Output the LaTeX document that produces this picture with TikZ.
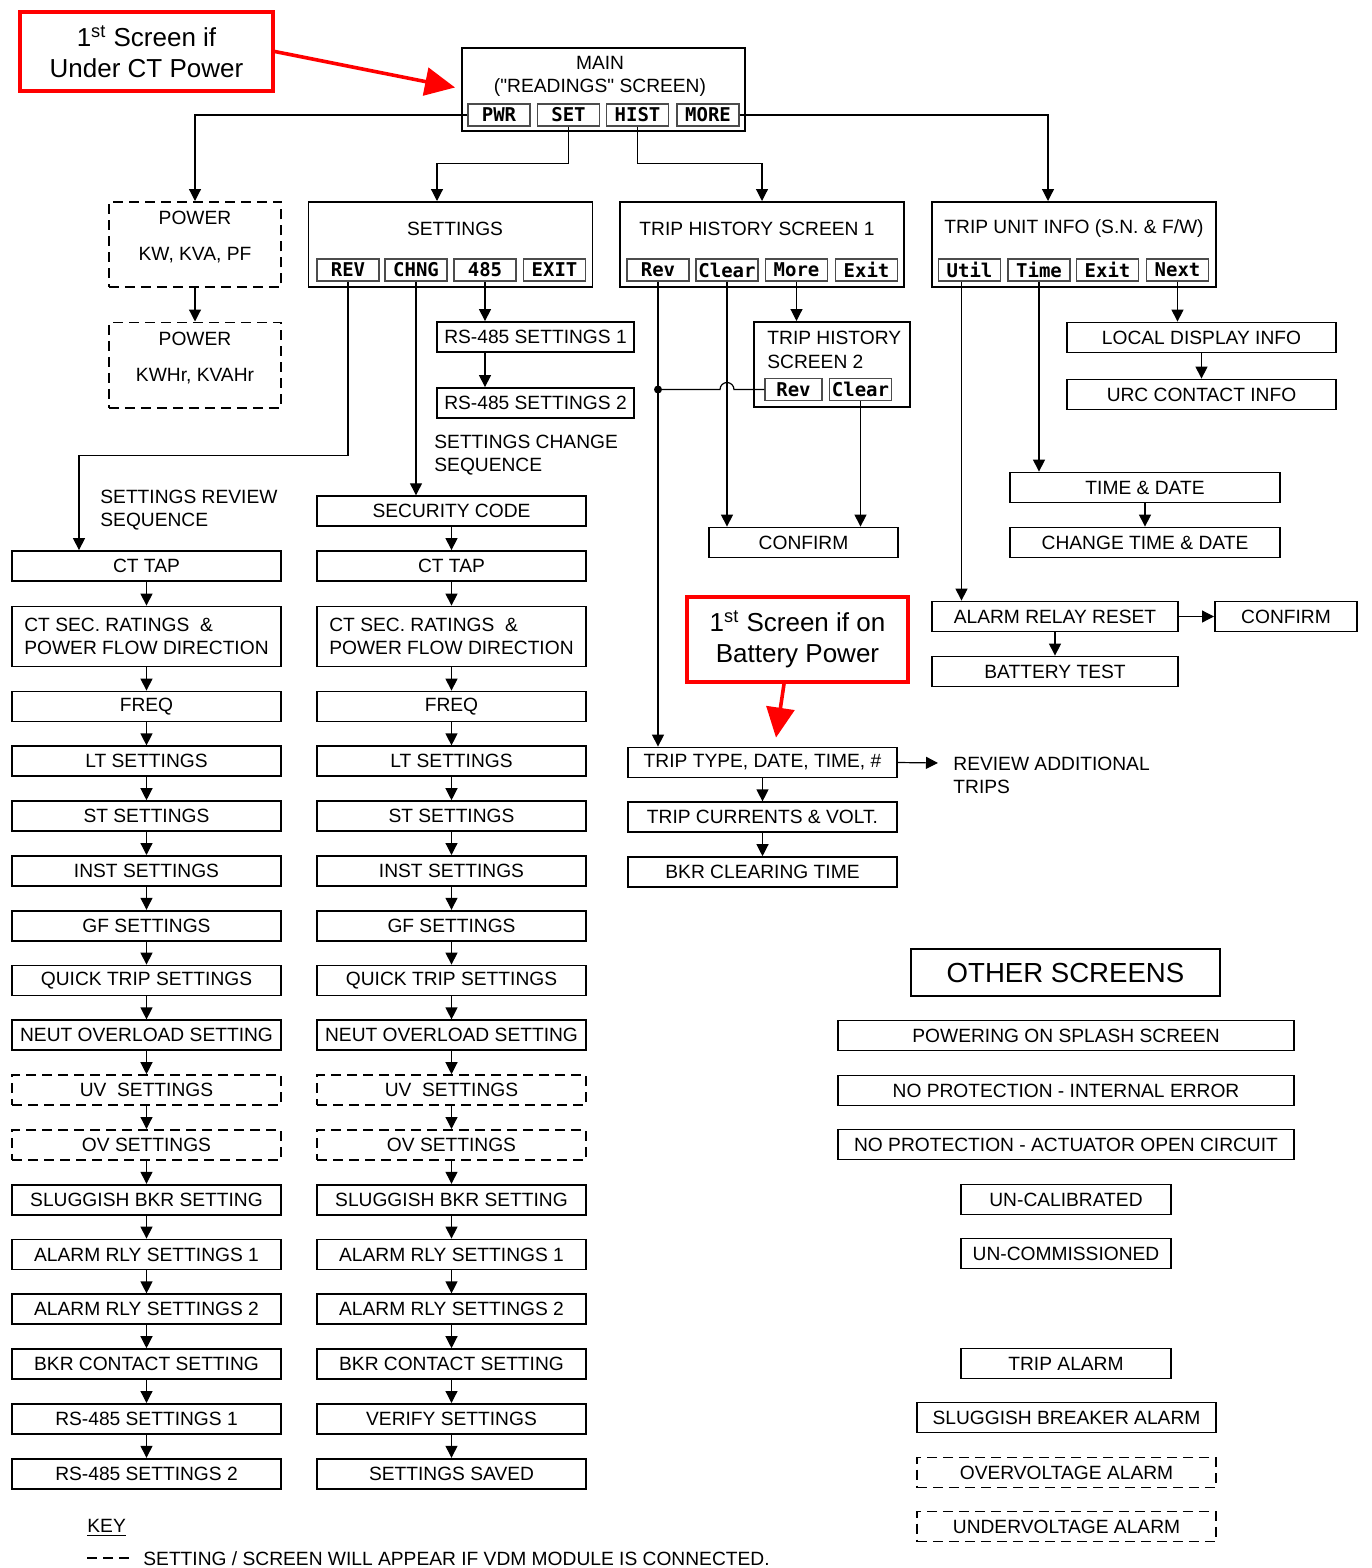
\documentclass[tikz,border=0pt]{standalone}
\usepackage{fontspec}
\setmainfont{Liberation Sans}[Ligatures=TeXOff]
\newfontfamily\lcdfont{DejaVu Sans Mono}
\usetikzlibrary{arrows.meta,calc}

\begin{document}
\begin{tikzpicture}[x=0.5pt, y=-0.5pt, node distance=27.4pt,
	every node/.style={font=\fontsize{9.6}{11.5}\selectfont},
	screen/.style={rectangle, draw=black, line width=0.9pt, inner sep=0pt},
	sbox/.style={screen, minimum height=15pt, minimum width=#1},
	colbox/.style={sbox=134.5pt},
	vdm/.style={dash pattern=on 5pt off 3pt},
	btn/.style={rectangle, draw=black!70, line width=0.6pt, minimum width=31pt, minimum height=11pt, inner sep=0pt, font=\lcdfont\bfseries\fontsize{9.5}{10}\selectfont},
	note/.style={rectangle, draw=red, line width=1.8pt, align=center, font=\fontsize{13}{15.5}\selectfont},
	caption/.style={inner sep=0pt, align=left, anchor=west},
	arr/.style={line width=0.6pt, -{Triangle[length=6pt, width=6pt]}},
	redarr/.style={draw=red, line width=1.8pt, -{Triangle[length=15pt, width=14pt]}}]

	\useasboundingbox (0,0) rectangle (1371,1568);

	\node (note-1) [note, minimum width=126.5pt, minimum height=39.7pt] at (146.5,51.5) {1\textsuperscript{st} Screen if\\Under CT Power};

	\node (main) [screen, minimum width=141.6pt, minimum height=41.6pt] at (603.5,89.5) {};
	\node (main-t) [align=center] at (600,76) {MAIN\\("READINGS" SCREEN)};
	\node (main-pwr) [btn] at (499,115) {PWR};
	\node (main-set) [btn] at (568.5,115) {SET};
	\node (main-hist) [btn] at (637.5,115) {HIST};
	\node (main-more) [btn] at (708,115) {MORE};

	\node (power-1) [screen, vdm, minimum width=86.1pt, minimum height=42.6pt] at (195,244.5) {};
	\node (power-1-t) [align=center, font=\fontsize{9.6}{18}\selectfont] at (195,237) {POWER\\KW, KVA, PF};
	\node (power-2) [screen, vdm, minimum width=86.1pt, minimum height=42.6pt] at (195,365) {};
	\node (power-2-t) [align=center, font=\fontsize{9.6}{18}\selectfont] at (195,358) {POWER\\KWHr, KVAHr};

	\node (set) [screen, minimum width=142pt, minimum height=42.6pt] at (450.5,244.5) {};
	\node (set-t) at (455,229) {SETTINGS};
	\node (set-rev) [btn] at (348,270) {REV};
	\node (set-chng) [btn] at (416,270) {CHNG};
	\node (set-485) [btn] at (485,270) {485};
	\node (set-exit) [btn] at (554.5,270) {EXIT};

	\node (rs-1) [sbox=98.6pt] at (535.5,337) {RS-485 SETTINGS 1};
	\node (rs-2) [sbox=98.6pt] at (535.5,403) {RS-485 SETTINGS 2};
	\node (chg-t) [caption] at (434,455) {SETTINGS CHANGE\\SEQUENCE};

	\node (hist) [screen, minimum width=142pt, minimum height=42.6pt] at (762,244.5) {};
	\node (hist-t) at (757,229) {TRIP HISTORY SCREEN 1};
	\node (hist-rev) [btn] at (658,270) {Rev};
	\node (hist-clear) [btn] at (727,270) {Clear};
	\node (hist-more) [btn] at (796.5,270) {More};
	\node (hist-exit) [btn] at (866.5,270) {Exit};

	\node (hist2) [screen, minimum width=78.1pt, minimum height=42.6pt] at (832,364.5) {};
	\node (hist2-t) [caption, font=\fontsize{9.6}{12}\selectfont] at (767,350) {TRIP HISTORY\\SCREEN 2};
	\node (hist2-rev) [btn, minimum width=28.5pt] at (793.5,389.5) {Rev};
	\node (hist2-clear) [btn] at (860.5,389.5) {Clear};
	\node (confirm-1) [sbox=94.6pt] at (803.5,542.5) {CONFIRM};

	\node (unit) [screen, minimum width=142pt, minimum height=42.6pt] at (1074,244.5) {};
	\node (unit-t) at (1074,229) {TRIP UNIT INFO (S.N. \& F/W)};
	\node (unit-util) [btn] at (969.5,270) {Util};
	\node (unit-time) [btn] at (1039,270) {Time};
	\node (unit-exit) [btn] at (1107.5,270) {Exit};
	\node (unit-next) [btn] at (1177.5,270) {Next};

	\node (local-1) [sbox=134.6pt] at (1201.5,337.5) {LOCAL DISPLAY INFO};
	\node (local-2) [sbox=134.6pt] at (1201.5,394.5) {URC CONTACT INFO};
	\node (time-1) [sbox=135pt] at (1145,487.5) {TIME \& DATE};
	\node (time-2) [sbox=135pt] at (1145,542.5) {CHANGE TIME \& DATE};
	\node (alarm-1) [sbox=123pt] at (1055,616.5) {ALARM RELAY RESET};
	\node (confirm-2) [sbox=71.1pt] at (1286,616.5) {CONFIRM};
	\node (alarm-2) [sbox=123pt] at (1055,671.5) {BATTERY TEST};

	\node (note-2) [note, minimum width=110.7pt, minimum height=42.7pt] at (797.5,639.5) {1\textsuperscript{st} Screen if on\\Battery Power};

	\node (trip-1) [sbox=134.6pt] at (762.5,762.5) {TRIP TYPE, DATE, TIME, \#};
	\node (trip-2) [sbox=134.6pt, below of=trip-1] {TRIP CURRENTS \& VOLT.};
	\node (trip-3) [sbox=134.6pt, below of=trip-2] {BKR CLEARING TIME};
	\coordinate (more-in) at (938,763);
	\node (more-t) [caption] at (953,775) {REVIEW ADDITIONAL\\TRIPS};

	\node (rev-t) [caption] at (100,510) {SETTINGS REVIEW\\SEQUENCE};
	\node (rev-1) [colbox] at (146.5,566) {CT TAP};
	\node (rev-2) [colbox, align=left, minimum height=30pt, node distance=35.25pt, below of=rev-1] {CT SEC. RATINGS\ \ \&\\POWER FLOW DIRECTION};
	\node (rev-3) [colbox, node distance=35pt, below of=rev-2] {FREQ};
	\node (rev-4) [colbox, below of=rev-3] {LT SETTINGS};
	\node (rev-5) [colbox, below of=rev-4] {ST SETTINGS};
	\node (rev-6) [colbox, below of=rev-5] {INST SETTINGS};
	\node (rev-7) [colbox, below of=rev-6] {GF SETTINGS};
	\node (rev-8) [colbox, below of=rev-7] {QUICK TRIP SETTINGS};
	\node (rev-9) [colbox, below of=rev-8] {NEUT OVERLOAD SETTING};
	\node (rev-10) [colbox, vdm, below of=rev-9] {UV\ \ SETTINGS};
	\node (rev-11) [colbox, vdm, below of=rev-10] {OV SETTINGS};
	\node (rev-12) [colbox, below of=rev-11] {SLUGGISH BKR SETTING};
	\node (rev-13) [colbox, below of=rev-12] {ALARM RLY SETTINGS 1};
	\node (rev-14) [colbox, below of=rev-13] {ALARM RLY SETTINGS 2};
	\node (rev-15) [colbox, below of=rev-14] {BKR CONTACT SETTING};
	\node (rev-16) [colbox, below of=rev-15] {RS-485 SETTINGS 1};
	\node (rev-17) [colbox, below of=rev-16] {RS-485 SETTINGS 2};

	\node (chg-1) [colbox] at (451.5,511.2) {SECURITY CODE};
	\node (chg-2) [colbox, below of=chg-1] {CT TAP};
	\node (chg-3) [colbox, align=left, minimum height=30pt, node distance=35.25pt, below of=chg-2] {CT SEC. RATINGS\ \ \&\\POWER FLOW DIRECTION};
	\node (chg-4) [colbox, node distance=35pt, below of=chg-3] {FREQ};
	\node (chg-5) [colbox, below of=chg-4] {LT SETTINGS};
	\node (chg-6) [colbox, below of=chg-5] {ST SETTINGS};
	\node (chg-7) [colbox, below of=chg-6] {INST SETTINGS};
	\node (chg-8) [colbox, below of=chg-7] {GF SETTINGS};
	\node (chg-9) [colbox, below of=chg-8] {QUICK TRIP SETTINGS};
	\node (chg-10) [colbox, below of=chg-9] {NEUT OVERLOAD SETTING};
	\node (chg-11) [colbox, vdm, below of=chg-10] {UV\ \ SETTINGS};
	\node (chg-12) [colbox, vdm, below of=chg-11] {OV SETTINGS};
	\node (chg-13) [colbox, below of=chg-12] {SLUGGISH BKR SETTING};
	\node (chg-14) [colbox, below of=chg-13] {ALARM RLY SETTINGS 1};
	\node (chg-15) [colbox, below of=chg-14] {ALARM RLY SETTINGS 2};
	\node (chg-16) [colbox, below of=chg-15] {BKR CONTACT SETTING};
	\node (chg-17) [colbox, below of=chg-16] {VERIFY SETTINGS};
	\node (chg-18) [colbox, below of=chg-17] {SETTINGS SAVED};

	\node (other-t) [screen, minimum width=154.6pt, minimum height=23.6pt, font=\fontsize{13.8}{16}\selectfont] at (1065.5,972.5) {OTHER SCREENS};
	\node (other-1) [sbox=228pt] at (1066,1035.5) {POWERING ON SPLASH SCREEN};
	\node (other-2) [sbox=228pt] at (1066,1090.5) {NO PROTECTION - INTERNAL ERROR};
	\node (other-3) [sbox=228pt] at (1066,1144.5) {NO PROTECTION - ACTUATOR OPEN CIRCUIT};
	\node (other-4) [sbox=105pt] at (1066,1199.5) {UN-CALIBRATED};
	\node (other-5) [sbox=105pt] at (1066,1253.5) {UN-COMMISSIONED};
	\node (other-6) [sbox=105pt] at (1066,1363.5) {TRIP ALARM};
	\node (other-7) [sbox=149.5pt] at (1066.5,1417.5) {SLUGGISH BREAKER ALARM};
	\node (other-8) [sbox=149.5pt, vdm] at (1066.5,1472.5) {OVERVOLTAGE ALARM};
	\node (other-9) [sbox=149.5pt, vdm] at (1066.5,1526.5) {UNDERVOLTAGE ALARM};

	\node (key-t) [caption] at (87,1528) {\underline{KEY}};
	\coordinate (key-dash) at (87,1558);
	\node (key-text) [caption] at (143,1559) {SETTING / SCREEN WILL APPEAR IF VDM MODULE IS CONNECTED.};
	\draw[line width=0.9pt, vdm] (key-dash) -- ++(43,0);

	\draw[redarr] (note-1.east) -- ($(main.west)+(-6,-2)$);
	\draw[arr] (main-pwr.west) -| (power-1.north);
	\draw[arr] (main-set.south) -- ++(0,37) -| ($(set.north)+(-13.5,0)$);
	\draw[arr] (main-hist.south) -- ++(0,37) -| (hist.north);
	\draw[arr] (main-more.east) -| ($(unit.north)+(-26,0)$);
	\draw[arr] (power-1) -- (power-2);

	\draw[arr] (set-rev.south) -- ++(0,174) -| ($(rev-1.north)+(-67.5,0)$);
	\draw[arr] (set-chng.south) -- (set-chng.south |- chg-1.north);
	\draw[arr] (set-485.south) -- (set-485.south |- rs-1.north);
	\draw[arr] (set-485.south |- rs-1.south) -- (set-485.south |- rs-2.north);

	\draw[arr] (hist-rev.south) -- (hist-rev.south |- trip-1.north);
	\fill (hist-rev.south |- hist2-rev.west) circle[radius=4];
	\draw[arr] (hist-clear.south) -- (hist-clear.south |- confirm-1.north);
	\draw[arr] (hist-more.south) -- (hist-more.south |- hist2.north);
	\draw[line width=0.6pt] (hist2-rev.west) -- ($(hist-clear.south |- hist2-rev.west)+(7,0)$) arc[start angle=0, end angle=-180, radius=7] -- (hist-rev.south |- hist2-rev.west);
	\draw[arr] (hist2-clear.south) -- (hist2-clear.south |- confirm-1.north);

	\draw[arr] ($(unit-util.south)+(-8,0)$) -- ($(unit-util.south |- alarm-1.north)+(-8,0)$);
	\draw[arr] (unit-time.south) -- (unit-time.south |- time-1.north);
	\draw[arr] (unit-next.south) -- (unit-next.south |- local-1.north);
	\draw[arr] (local-1) -- (local-2);
	\draw[arr] (time-1) -- (time-2);
	\draw[arr] (alarm-1) -- (confirm-2);
	\draw[arr] (alarm-1) -- (alarm-2);

	\draw[redarr] ($(note-2.south)+(-13.5,0)$) -- ($(trip-1.north)+(13.5,-9)$);
	\draw[arr] (trip-1) -- (trip-2);
	\draw[arr] (trip-2) -- (trip-3);
	\draw[arr] (trip-1.east) -- (more-in);

	\draw[arr] (rev-1) -- (rev-2);
	\draw[arr] (rev-2) -- (rev-3);
	\draw[arr] (rev-3) -- (rev-4);
	\draw[arr] (rev-4) -- (rev-5);
	\draw[arr] (rev-5) -- (rev-6);
	\draw[arr] (rev-6) -- (rev-7);
	\draw[arr] (rev-7) -- (rev-8);
	\draw[arr] (rev-8) -- (rev-9);
	\draw[arr] (rev-9) -- (rev-10);
	\draw[arr] (rev-10) -- (rev-11);
	\draw[arr] (rev-11) -- (rev-12);
	\draw[arr] (rev-12) -- (rev-13);
	\draw[arr] (rev-13) -- (rev-14);
	\draw[arr] (rev-14) -- (rev-15);
	\draw[arr] (rev-15) -- (rev-16);
	\draw[arr] (rev-16) -- (rev-17);

	\draw[arr] (chg-1) -- (chg-2);
	\draw[arr] (chg-2) -- (chg-3);
	\draw[arr] (chg-3) -- (chg-4);
	\draw[arr] (chg-4) -- (chg-5);
	\draw[arr] (chg-5) -- (chg-6);
	\draw[arr] (chg-6) -- (chg-7);
	\draw[arr] (chg-7) -- (chg-8);
	\draw[arr] (chg-8) -- (chg-9);
	\draw[arr] (chg-9) -- (chg-10);
	\draw[arr] (chg-10) -- (chg-11);
	\draw[arr] (chg-11) -- (chg-12);
	\draw[arr] (chg-12) -- (chg-13);
	\draw[arr] (chg-13) -- (chg-14);
	\draw[arr] (chg-14) -- (chg-15);
	\draw[arr] (chg-15) -- (chg-16);
	\draw[arr] (chg-16) -- (chg-17);
	\draw[arr] (chg-17) -- (chg-18);
\end{tikzpicture}
\end{document}
